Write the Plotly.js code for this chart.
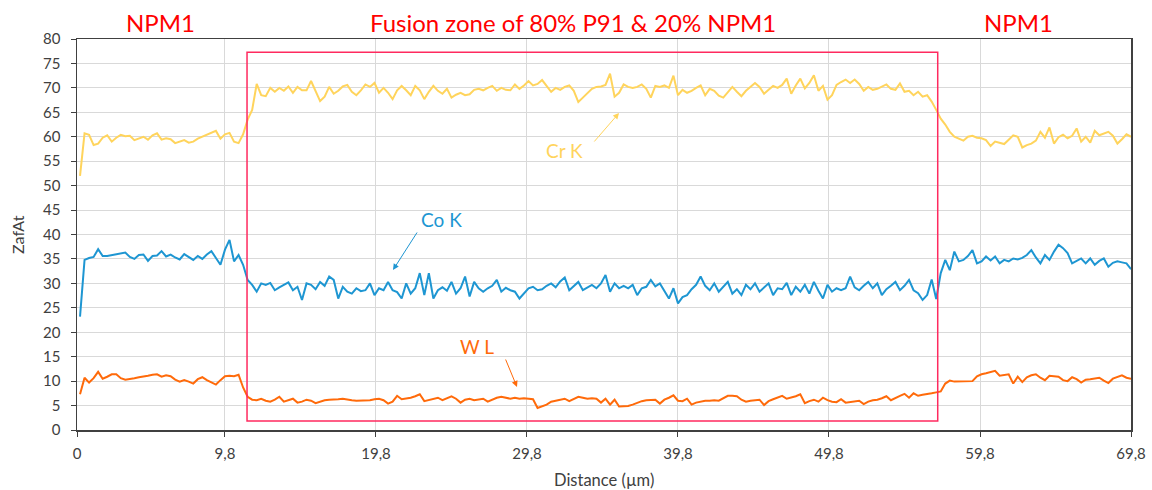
<!DOCTYPE html>
<html>
<head>
<meta charset="utf-8">
<script src="https://cdn.plot.ly/plotly-3.0.1.min.js"></script>
<style>html,body{margin:0;padding:0;background:#fff;}#chart{width:1152px;height:490px;}</style>
</head>
<body>
<div id="chart"></div>
<script>
// Sampling of the line scan (µm)
const xStart = 0.2;
const xStep = 0.3;

// Cr K
const crK = [
  52.0,60.7,60.4,58.3,58.6,59.8,60.3,59.0,59.8,60.4,
  60.1,60.2,59.3,59.6,60.0,59.4,60.3,60.7,59.4,59.7,
  59.5,58.7,59.0,59.3,58.8,59.0,59.6,60.0,60.5,60.9,
  61.2,59.6,60.5,60.8,59.0,58.7,60.5,63.5,65.5,70.8,
  68.5,68.3,70.0,69.2,70.0,69.4,70.3,69.0,70.2,69.5,
  69.5,71.4,69.5,67.3,68.2,70.2,68.8,69.4,70.3,70.6,
  69.2,68.5,69.5,70.7,70.2,71.0,69.0,70.0,69.0,67.7,
  69.5,70.4,69.5,68.5,70.4,69.5,67.7,69.2,70.4,69.4,
  68.8,69.8,68.0,68.6,69.0,68.5,68.7,69.6,69.8,69.5,
  70.0,70.4,69.4,70.0,69.6,69.5,70.7,69.8,70.5,71.4,
  70.5,70.8,71.6,70.4,69.2,70.0,69.6,70.2,70.5,69.4,
  67.1,68.0,69.0,69.8,70.2,70.3,70.6,72.9,68.2,69.0,
  70.7,70.2,70.0,70.2,70.7,69.8,68.0,70.4,70.2,70.5,
  70.0,72.5,68.5,69.6,69.0,69.4,70.0,70.5,68.5,69.8,
  69.4,68.4,68.0,69.0,70.2,69.2,68.3,69.4,70.2,71.0,
  70.2,68.8,69.6,70.4,70.0,70.6,71.9,68.8,70.5,71.9,
  69.9,71.0,72.6,69.4,70.4,67.6,68.5,70.6,71.2,71.7,
  71.0,71.7,70.8,69.4,70.2,69.6,69.8,70.3,70.7,69.8,
  69.6,70.9,69.2,69.4,68.5,69.2,68.2,68.5,67.2,65.5,
  63.7,62.5,61.0,60.0,59.6,59.2,60.0,60.2,59.8,59.7,
  59.3,58.1,59.0,58.8,58.5,59.4,60.3,60.0,57.8,58.3,
  58.6,59.2,61.0,59.8,61.9,58.6,59.9,60.4,59.7,60.2,
  61.7,59.0,60.0,58.8,61.2,60.3,60.6,61.0,60.2,58.6,
  59.5,60.5,60.0
];

// Co K
const coK = [
  23.2,34.8,35.2,35.4,37.0,35.6,35.6,35.8,35.9,36.2,
  36.3,35.4,35.0,35.8,35.9,34.6,35.6,35.7,36.6,35.5,
  35.9,35.3,34.9,36.0,35.4,34.8,35.6,35.0,35.9,36.6,
  35.2,33.8,36.9,38.9,34.5,35.8,33.8,30.7,29.7,28.3,
  30.0,29.7,30.1,28.6,29.2,29.7,30.2,28.6,29.3,26.6,
  30.0,29.7,28.8,30.3,29.5,31.4,30.7,26.9,29.3,28.3,
  27.9,29.0,28.4,28.6,30.0,27.6,29.0,28.6,30.3,28.6,
  28.2,26.9,30.0,27.9,29.0,32.1,27.6,32.1,26.9,28.6,
  29.2,28.5,30.3,27.9,29.0,31.4,27.3,30.3,29.0,28.3,
  29.0,29.5,30.7,28.3,29.1,28.6,28.3,26.9,28.0,29.0,
  29.3,28.6,28.8,29.5,30.0,29.2,30.4,31.2,28.6,29.5,
  30.3,28.6,29.2,29.7,29.0,30.0,31.7,28.3,30.0,29.0,
  29.5,29.0,29.7,27.6,29.0,29.3,30.7,29.4,30.0,28.5,
  26.9,29.0,25.9,27.2,27.6,28.8,29.7,31.4,29.5,28.6,
  30.0,28.3,29.2,30.3,27.9,28.8,27.6,29.7,28.8,30.0,
  28.3,29.2,30.0,27.6,29.0,28.8,30.1,27.6,29.3,28.3,
  29.7,27.9,30.3,28.5,26.9,29.7,28.3,29.0,28.6,29.0,
  31.4,29.2,28.6,29.5,30.3,29.0,30.0,27.6,28.8,29.5,
  30.3,28.6,29.5,30.7,28.6,28.0,26.6,27.6,30.8,26.8,
  32.1,34.8,32.7,36.5,34.5,34.8,35.6,36.8,34.1,34.5,
  35.5,34.7,35.5,34.1,34.8,34.5,35.1,34.9,35.2,35.8,
  36.8,35.3,34.1,35.8,34.8,36.5,37.9,37.2,36.2,34.1,
  34.6,35.1,34.1,35.1,33.8,34.6,35.1,33.4,34.2,34.5,
  34.3,34.1,32.9
];

// W L
const wL = [
  7.3,10.7,9.7,10.6,11.9,10.5,10.9,11.4,11.4,10.6,
  10.3,10.4,10.6,10.8,10.9,11.1,11.3,11.4,10.9,11.2,
  11.0,10.3,9.9,10.2,9.9,9.5,10.4,10.8,10.2,9.8,
  9.3,10.2,11.0,11.1,11.0,11.3,8.7,6.8,6.2,6.1,
  6.4,6.0,5.8,6.2,6.8,5.8,6.1,6.4,5.6,5.8,
  6.2,6.0,5.5,5.8,6.1,6.2,6.2,6.3,6.4,6.2,
  6.1,6.0,6.0,6.0,6.1,6.3,6.4,6.1,5.4,5.8,
  7.0,6.3,6.4,6.6,6.9,7.3,5.9,6.1,6.4,6.6,
  6.1,6.5,6.9,6.4,5.6,6.2,6.4,6.1,6.2,6.4,
  5.8,6.2,6.6,6.8,6.6,6.4,6.6,6.4,6.5,6.4,
  6.3,4.5,4.9,5.2,5.8,6.0,6.2,6.4,5.9,6.3,
  6.8,6.6,6.4,6.5,6.4,5.6,6.4,5.2,6.2,4.8,
  4.8,4.9,5.2,5.6,5.9,6.1,6.1,6.2,5.4,6.2,
  6.6,7.1,6.0,5.9,6.4,5.2,5.6,5.8,6.0,6.0,
  6.1,6.0,6.5,7.0,7.0,6.9,6.2,5.8,6.0,6.1,
  6.2,5.1,5.9,6.3,6.7,7.0,6.4,6.6,6.9,7.3,
  5.5,5.9,6.2,5.8,6.6,6.1,5.8,5.7,6.3,5.6,
  5.7,5.9,6.0,5.3,5.8,6.1,6.2,6.5,6.9,6.1,
  6.6,7.0,7.4,6.6,7.5,7.0,7.2,7.3,7.5,7.7,
  7.9,9.5,10.1,9.9,9.9,10.0,10.0,10.0,11.0,11.4,
  11.6,11.8,12.1,11.1,11.3,11.4,9.5,10.9,9.8,10.8,
  11.2,11.4,10.7,10.2,11.1,11.0,10.9,10.2,10.0,10.8,
  10.4,9.7,10.3,10.4,10.6,10.7,10.1,9.6,10.5,10.8,
  11.2,10.7,10.5
];

const distance = crK.map((_, i) => +(xStart + i * xStep).toFixed(2));

// Axis ticks
const xTickVals = [0, 9.8, 19.8, 29.8, 39.8, 49.8, 59.8, 69.8];
const xTickText = ['0', '9,8', '19,8', '29,8', '39,8', '49,8', '59,8', '69,8'];
const yTickVals = [0,5,10,15,20,25,30,35,40,45,50,55,60,65,70,75,80];

// Fusion zone frame (data units)
const zoneX = [11.26, 57.0];
const zoneY = [1.84, 77.3];

const colCr = '#FFD45C';
const colCo = '#1E96D2';
const colW = '#FF6A0A';
const red = '#FF0000';
const FONT = 'Lato, "Open Sans", sans-serif';

const traces = [
  {x: distance, y: crK, name: 'Cr K', type: 'scatter', mode: 'lines', line: {color: colCr, width: 2}},
  {x: distance, y: coK, name: 'Co K', type: 'scatter', mode: 'lines', line: {color: colCo, width: 2}},
  {x: distance, y: wL, name: 'W L', type: 'scatter', mode: 'lines', line: {color: colW, width: 2}}
];

function arrow(tailX, tailY, headX, headY, color) {
  return {x: headX, y: headY, ax: tailX, ay: tailY, axref: 'x', ayref: 'y', xref: 'x', yref: 'y',
    text: '', showarrow: true, arrowhead: 2, arrowsize: 1.2, arrowwidth: 1, arrowcolor: color};
}
function label(txt, x, y, color, size) {
  return {x: x, y: y, xref: 'x', yref: 'y', text: txt, showarrow: false,
    font: {family: FONT, size: size, color: color}, xanchor: 'center', yanchor: 'middle'};
}
function pxX(p) { return (p - 77) / 15.1; }
function pxY(p) { return (430 - p) / 4.8875; }
function paperX(p) { return (p - 77) / 1054; }
function paperY(p) { return (430 - p) / 391; }

const layout = {
  width: 1152, height: 490,
  margin: {l: 77, r: 21, t: 39, b: 60},
  paper_bgcolor: '#ffffff', plot_bgcolor: '#ffffff',
  showlegend: false,
  font: {family: FONT, color: '#404040'},
  xaxis: {
    range: [0, 69.8], tickvals: xTickVals, ticktext: xTickText,
    showgrid: true, gridcolor: '#D9D9D9', gridwidth: 1, zeroline: false,
    showline: true, linecolor: '#404040', linewidth: 1.5, mirror: true,
    ticks: 'outside', ticklen: 5, tickcolor: '#404040', ticklabelstandoff: 4,
    tickfont: {family: FONT, size: 15, color: '#404040'}
  },
  yaxis: {
    range: [0, 80], tickvals: yTickVals,
    showgrid: true, gridcolor: '#D9D9D9', gridwidth: 1, zeroline: false,
    showline: true, linecolor: '#404040', linewidth: 1.5, mirror: true,
    ticks: 'outside', ticklen: 5, tickcolor: '#404040', ticklabelstandoff: 7,
    tickfont: {family: FONT, size: 15, color: '#404040'}
  },
  shapes: [{
    type: 'rect', xref: 'x', yref: 'y', x0: zoneX[0], x1: zoneX[1], y0: zoneY[0], y1: zoneY[1],
    line: {color: '#FF2A5F', width: 1.5}, fillcolor: 'rgba(0,0,0,0)'
  }],
  annotations: [
    {xref: 'paper', yref: 'paper', x: paperX(160), y: paperY(23), text: 'NPM1', showarrow: false,
      font: {family: FONT, size: 24, color: red}, xanchor: 'center', yanchor: 'middle'},
    {xref: 'paper', yref: 'paper', x: paperX(573), y: paperY(22), text: 'Fusion zone of 80% P91 & 20% NPM1', showarrow: false,
      font: {family: FONT, size: 24, color: red}, xanchor: 'center', yanchor: 'middle'},
    {xref: 'paper', yref: 'paper', x: paperX(1018), y: paperY(23), text: 'NPM1', showarrow: false,
      font: {family: FONT, size: 24, color: red}, xanchor: 'center', yanchor: 'middle'},
    {xref: 'paper', yref: 'paper', x: paperX(604), y: paperY(480), text: 'Distance (µm)', showarrow: false,
      font: {family: FONT, size: 16.5, color: '#404040'}, xanchor: 'center', yanchor: 'middle'},
    {xref: 'paper', yref: 'paper', x: paperX(17), y: paperY(235), text: 'ZafAt', showarrow: false, textangle: -90,
      font: {family: FONT, size: 16, color: '#404040'}, xanchor: 'center', yanchor: 'middle'},
    label('Cr K', pxX(564), pxY(150), colCr, 19),
    arrow(pxX(593), pxY(143), pxX(619), pxY(113), colCr),
    label('Co K', pxX(441), pxY(219), colCo, 19),
    arrow(pxX(418), pxY(231), pxX(393), pxY(270), colCo),
    label('W L', pxX(477), pxY(346), colW, 19),
    arrow(pxX(505), pxY(358), pxX(517), pxY(387), colW)
  ]
};

Plotly.newPlot('chart', traces, layout, {displayModeBar: false, staticPlot: true});
</script>
</body>
</html>
